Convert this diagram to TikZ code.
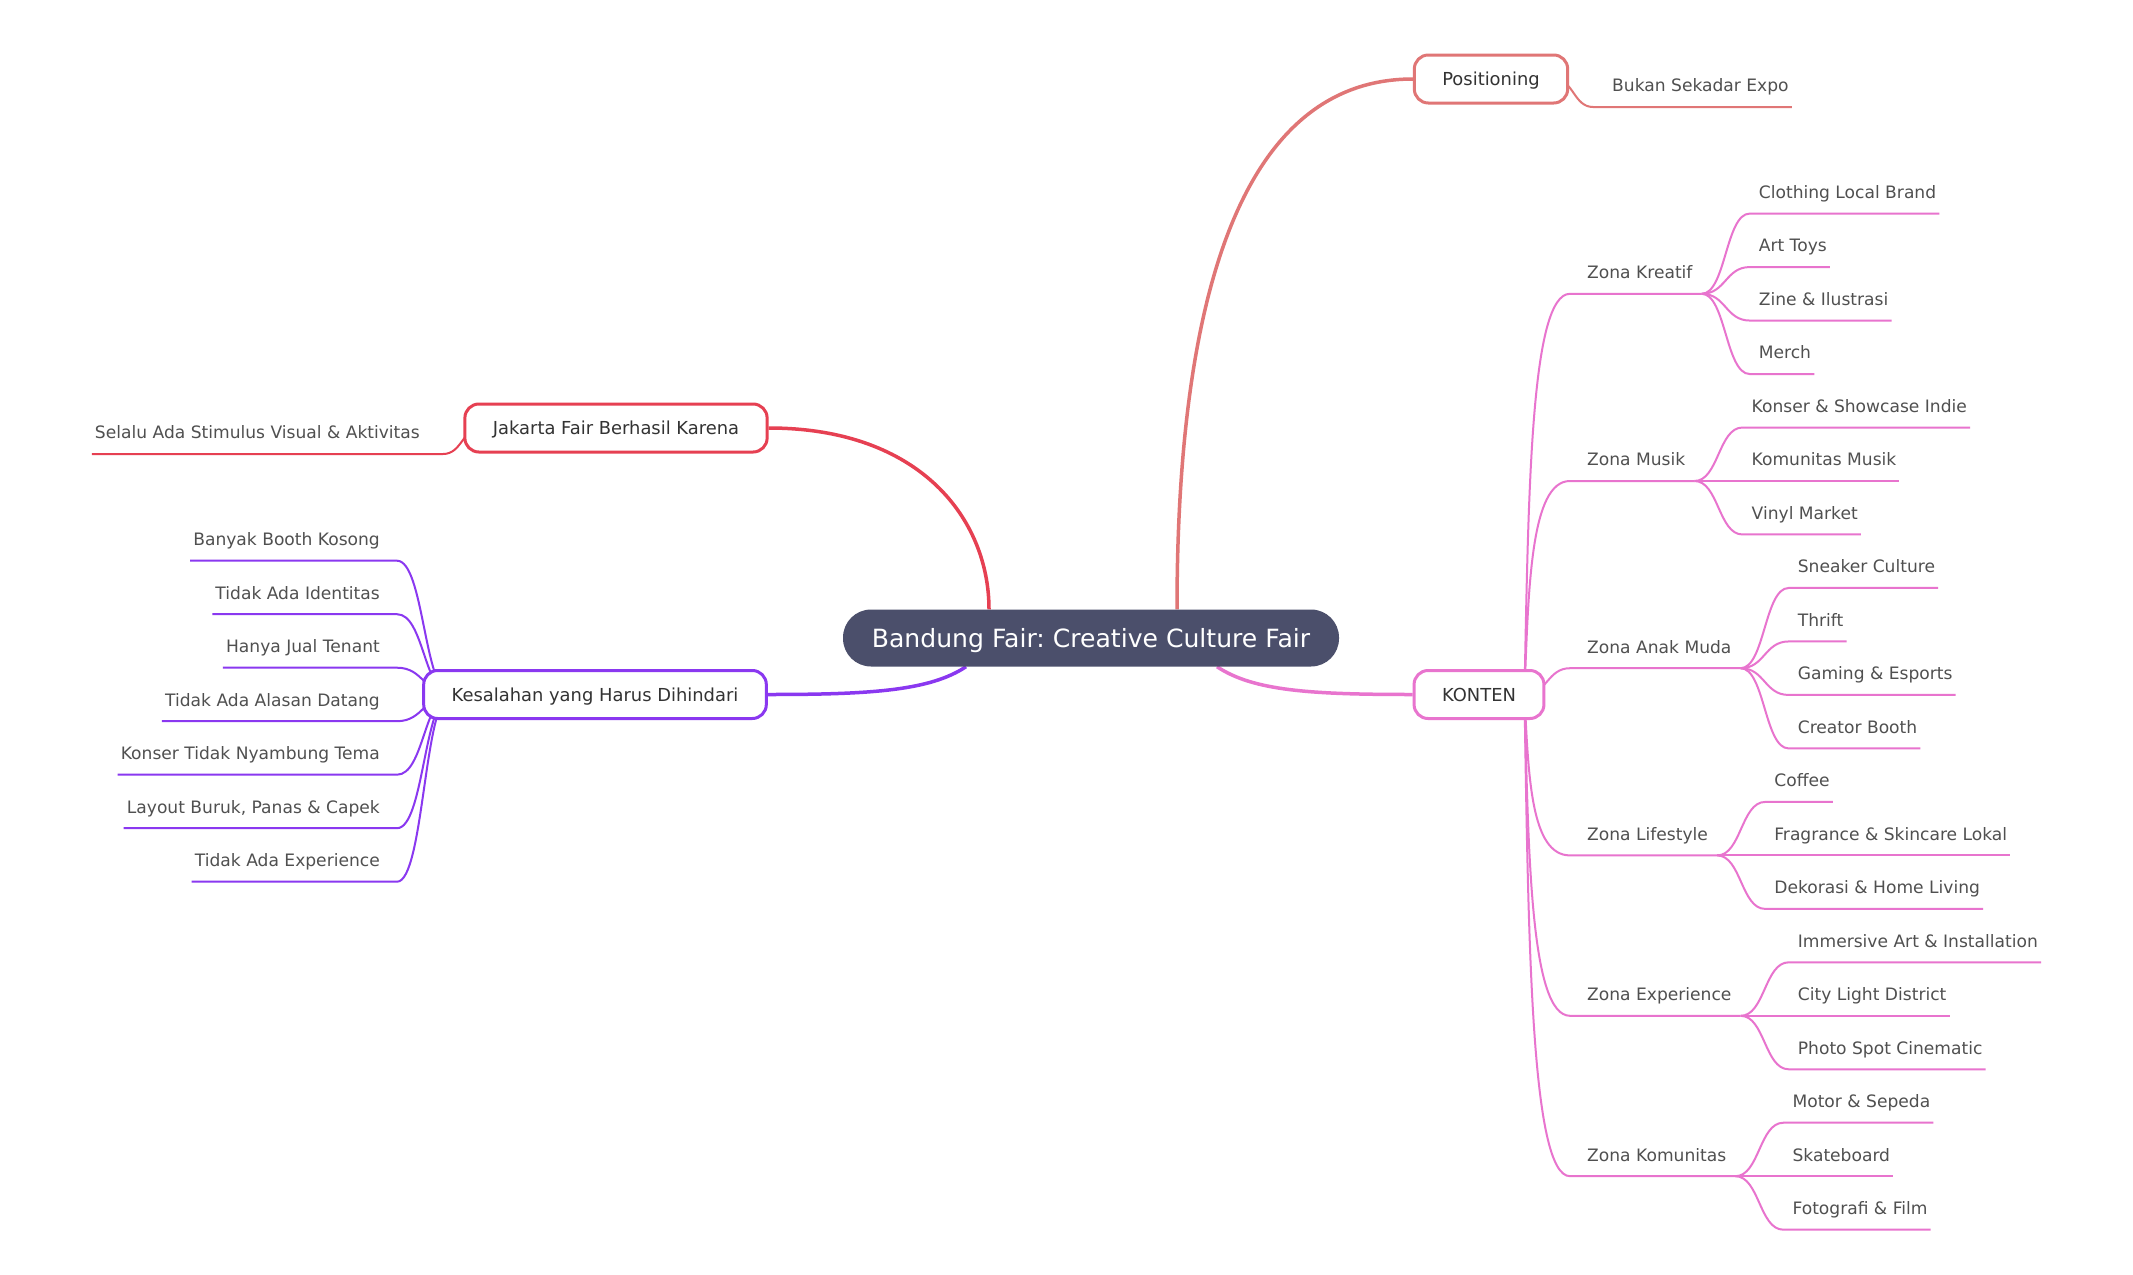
\documentclass[tikz,border=0pt]{standalone}
\usepackage{fontspec}
\setmainfont{DejaVu Sans}
\frenchspacing
\usetikzlibrary{calc, backgrounds}
\definecolor{centralslate}{RGB}{75,79,107}
\definecolor{jakartared}{RGB}{230,64,82}
\definecolor{positionsalmon}{RGB}{224,118,118}
\definecolor{mistakepurple}{RGB}{138,56,240}
\definecolor{kontenpink}{RGB}{232,116,206}
\definecolor{leafgray}{RGB}{80,80,80}
\definecolor{topicgray}{RGB}{51,51,51}
\tikzset{
    mapcentral/.style={rectangle, fill=centralslate, rounded corners=28pt, minimum width=496pt, minimum height=57pt, text=white, font=\fontsize{25.1}{29}\selectfont, text height=18pt, text depth=0pt},
    maptopic/.style={rectangle, draw=#1, fill=white, line width=3pt, rounded corners=14pt, minimum height=48pt, inner xsep=28pt, text=topicgray, font=\fontsize{17.9}{21}\selectfont, text height=13pt, text depth=0pt},
    mapleaf/.style={anchor=south west, inner xsep=3pt, inner ysep=11pt, text height=13pt, text depth=4pt, text=leafgray, font=\fontsize{17.1}{20}\selectfont},
    mapleafleft/.style={mapleaf, anchor=south east},
    mapzone/.style={mapleaf, inner xsep=9pt},
    maplink/.style={to path={let \p1=(\tikztostart), \p2=(\tikztotarget) in .. controls (\x1/2+\x2/2,\y1) and (\x1/2+\x2/2,\y2) .. (\p2)}},
    mapvlink/.style={to path={let \p1=(\tikztostart), \p2=(\tikztotarget) in .. controls (\x1+4pt,\y1/2+\y2/2) and (\x1+6pt,\y2) .. (\p2)}},
    mapline/.style={draw=#1, line width=3.5pt},
    mapsubline/.style={draw=#1, line width=2pt}
}

\begin{document}
\begin{tikzpicture}[x=1pt, y=-1pt]
\useasboundingbox (0,0) rectangle (2133,1274);

% centre and main topics
\node[mapcentral] (root) at (1091,638) {Bandung Fair: Creative Culture Fair};
\node[maptopic=positionsalmon] (pos) at (1491,79) {Positioning};
\node[maptopic=jakartared] (jak) at (616,428) {Jakarta Fair Berhasil Karena};
\node[maptopic=mistakepurple] (kes) at (595,694.5) {Kesalahan yang Harus Dihindari};
\node[maptopic=kontenpink] (kon) at (1479,694.5) {KONTEN};

% leaves of the small topics
\node[mapleaf] (bukan) at (1609,107) {Bukan Sekadar Expo};
\node[mapleafleft] (selalu) at (423,454) {Selalu Ada Stimulus Visual \& Aktivitas};
\foreach \t [count=\i from 0] in {Banyak Booth Kosong, Tidak Ada Identitas, Hanya Jual Tenant, Tidak Ada Alasan Datang, Konser Tidak Nyambung Tema, {Layout Buruk, Panas \& Capek}, Tidak Ada Experience}
    \node[mapleafleft] (kes-\i) at (383,560.7+53.5*\i) {\t};

% zones of KONTEN
\foreach \z/\t/\y in {zk/Zona Kreatif/293.8, zm/Zona Musik/481, za/Zona Anak Muda/668.2, zl/Zona Lifestyle/855.4, ze/Zona Experience/1015.8, zo/Zona Komunitas/1176.2}
    \node[mapzone] (\z) at (1578,\y) {\t};

\foreach \t [count=\i from 0] in {Clothing Local Brand, Art Toys, Zine \& Ilustrasi, Merch}
    \node[mapleaf] (zk-\i) at ([xshift=54pt, yshift={(1.5-\i)*53.48pt}]zk.south east) {\t};
\foreach \t [count=\i from 0] in {Konser \& Showcase Indie, Komunitas Musik, Vinyl Market}
    \node[mapleaf] (zm-\i) at ([xshift=54pt, yshift={(1-\i)*53.48pt}]zm.south east) {\t};
\foreach \t [count=\i from 0] in {Sneaker Culture, Thrift, Gaming \& Esports, Creator Booth}
    \node[mapleaf] (za-\i) at ([xshift=54pt, yshift={(1.5-\i)*53.48pt}]za.south east) {\t};
\foreach \t [count=\i from 0] in {Coffee, Fragrance \& Skincare Lokal, Dekorasi \& Home Living}
    \node[mapleaf] (zl-\i) at ([xshift=54pt, yshift={(1-\i)*53.48pt}]zl.south east) {\t};
\foreach \t [count=\i from 0] in {Immersive Art \& Installation, City Light District, Photo Spot Cinematic}
    \node[mapleaf] (ze-\i) at ([xshift=54pt, yshift={(1-\i)*53.48pt}]ze.south east) {\t};
\foreach \t [count=\i from 0] in {Motor \& Sepeda, Skateboard, Fotografi \& Film}
    \node[mapleaf] (zo-\i) at ([xshift=54pt, yshift={(1-\i)*53.48pt}]zo.south east) {\t};

% connectors behind the boxes
\begin{scope}[on background layer]
    \fill[white] (0,0) rectangle (2133,1274);
    \draw[mapline=jakartared] ([xshift=-102pt]root.north) .. controls +(0,-89) and +(153,0) .. (jak.east);
    \draw[mapline=positionsalmon] ([xshift=86pt]root.north) .. controls +(0,-329) and +(-165,0) .. (pos.west);
    \draw[mapline=mistakepurple] ([xshift=-125pt]root.south) .. controls +(-36,24) and +(103,0) .. (kes.east);
    \draw[mapline=kontenpink] ([xshift=126pt]root.south) .. controls +(36,24) and +(-103,0) .. (kon.west);

    \draw[mapsubline=positionsalmon] ([xshift=-15pt]pos.east) to[maplink] ([xshift=-16pt]bukan.south west) -- (bukan.south east);
    \draw[mapsubline=jakartared] ([xshift=18pt]jak.west) to[maplink] ([xshift=20pt]selalu.south east) -- (selalu.south west);
    \foreach \i in {0,...,6}
        \draw[mapsubline=mistakepurple] ([xshift=29pt]kes.west) to[maplink] ([xshift=14pt]kes-\i.south east) -- (kes-\i.south west);

    \foreach \z in {zk,zm,zl,ze,zo}
        \draw[mapsubline=kontenpink] ([xshift=-21pt]kon.east) to[mapvlink] ([xshift=-8pt]\z.south west) -- (\z.south east);
    \draw[mapsubline=kontenpink] ([xshift=-21pt]kon.east) to[maplink] ([xshift=-8pt]za.south west) -- (za.south east);

    \foreach \z/\n in {zk/3, zm/2, za/3, zl/2, ze/2, zo/2}
        \foreach \i in {0,...,\n}
            \draw[mapsubline=kontenpink] (\z.south east) to[maplink] ([xshift=-6pt]\z-\i.south west) -- (\z-\i.south east);
\end{scope}
\end{tikzpicture}
\end{document}
